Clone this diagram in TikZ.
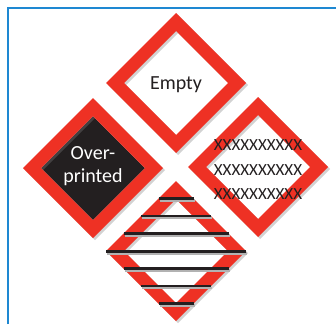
\documentclass[tikz,border=0pt]{standalone}
\usepackage{fontspec}
\setmainfont{Carlito}
\usetikzlibrary{calc,shadows}
\definecolor{signred}{HTML}{EE3124}
\definecolor{signblack}{HTML}{231F20}
\definecolor{frameblue}{HTML}{1E88D2}

\begin{document}
\begin{tikzpicture}[x=1pt,y=-1pt]
    \tikzstyle{band}=[fill=signred,even odd rule,drop shadow={shadow xshift=2pt,shadow yshift=-2pt,opacity=.35,even odd rule}]
    \tikzstyle{bar}=[signblack,line cap=butt]
    \tikzstyle{barshadow}=[black!30,line cap=butt]
    \tikzstyle{signtext}=[font=\fontsize{20}{23}\selectfont,inner sep=0pt,align=center]
    \tikzstyle{crosstext}=[font=\fontsize{17}{24.5}\selectfont,inner sep=0pt,align=center,signblack]
    % Canvas and frame
    \fill[white] (0,0) rectangle (336,324);
    \useasboundingbox (0,0) rectangle (336,324);
    \draw[frameblue,line width=1.2] (8,324) -- (8,8) -- (336,8);
    % Sign centres
    \coordinate (empty) at (176,83);
    \coordinate (over) at (93,168);
    \coordinate (cross) at (258,167);
    \coordinate (lined) at (176,251);
    % Black field
    \fill[signblack] ([shift={(0,-52)}]over) -- ([shift={(52,0)}]over) -- ([shift={(0,52)}]over) -- ([shift={(-52,0)}]over) -- cycle;
    % Red bands
    \foreach \s in {empty,over,cross,lined}
      \fill[band] ([shift={(0,-70)}]\s) -- ([shift={(70,0)}]\s) -- ([shift={(0,70)}]\s) -- ([shift={(-70,0)}]\s) -- cycle
        ([shift={(0,-52)}]\s) -- ([shift={(52,0)}]\s) -- ([shift={(0,52)}]\s) -- ([shift={(-52,0)}]\s) -- cycle;
    % Bars
    \foreach \d/\w in {-52.5/3,-35/2,-17.5/3,0/3,17.5/3,35/2,52.5/3}{
      \pgfmathsetmacro\hw{70-abs(\d)}
      \draw[barshadow,line width=\w] ([shift={(-\hw+1,\d+2)}]lined) -- ([shift={(\hw+1,\d+2)}]lined);
      \draw[bar,line width=\w] ([shift={(-\hw,\d)}]lined) -- ([shift={(\hw,\d)}]lined);
    }
    % Texts
    \node[signtext,signblack] (emptytext) at ([shift={(0,1.5)}]empty) {Empty};
    \node[signtext,white] (overtext) at ([shift={(0,-2)}]over) {Over-\\printed};
    \node[crosstext] (crosstext) at ([shift={(0,3)}]cross) {XXXXXXXXXX\\XXXXXXXXXX\\XXXXXXXXXX};
\end{tikzpicture}
\end{document}
